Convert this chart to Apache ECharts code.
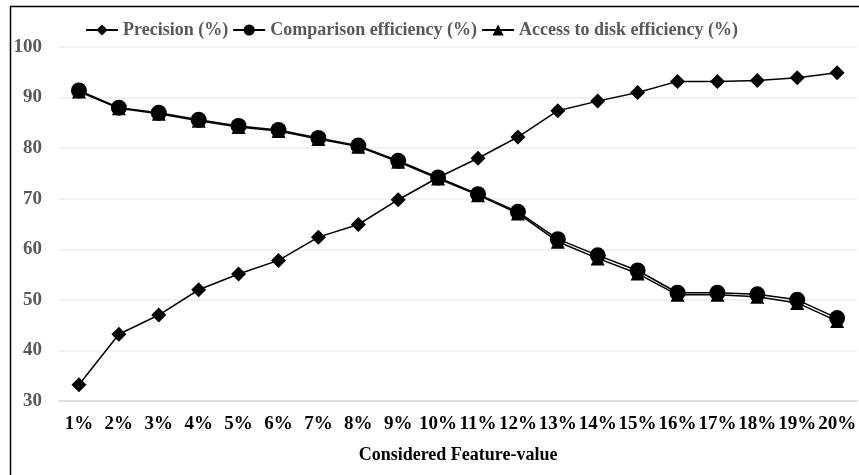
<!DOCTYPE html>
<html><head><meta charset="utf-8">
<script src="https://cdn.jsdelivr.net/npm/echarts@6/dist/echarts.min.js"></script>
<style>html,body{margin:0;padding:0;background:#fff}#c{width:859px;height:475px}</style>
</head><body><div id="c"></div>
<script>
const categories = ['1%','2%','3%','4%','5%','6%','7%','8%','9%','10%','11%','12%','13%','14%','15%','16%','17%','18%','19%','20%'];
const precision = [33.2,43.2,47.0,52.0,55.1,57.8,62.4,64.9,69.8,74.2,78.0,82.2,87.4,89.3,91.0,93.2,93.2,93.4,93.9,94.9];
const comparison = [91.4,88.0,87.0,85.6,84.4,83.6,82.0,80.5,77.5,74.2,70.9,67.4,62.0,58.8,55.8,51.4,51.4,51.1,50.0,46.4];
const access = [91.2,87.9,86.8,85.4,84.2,83.4,81.8,80.3,77.3,74.0,70.7,67.1,61.5,58.2,55.2,51.0,51.0,50.6,49.4,45.8];
const yTicks = {min:30, max:100, interval:10};

const font = '"Liberation Serif","Times New Roman",serif';
const chart = echarts.init(document.getElementById('c'));
const mk = (name, data, symbol, size) => ({
  name, type:'line', data, symbol, symbolSize:size,
  lineStyle:{color:'#000', width:1.5}, itemStyle:{color:'#000'}, z: 2
});
chart.setOption({
  animation:false,
  backgroundColor:'#fff',
  graphic:[{type:'rect', shape:{x:10.5,y:6.5,width:900,height:500}, style:{fill:null, stroke:'#000', lineWidth:1.5}, silent:true}],
  legend:{
    top:16, left:80, itemWidth:32, itemHeight:14, itemGap:4,
    textStyle:{fontFamily:font, fontWeight:'bold', fontSize:18, color:'#595959'},
    data:['Precision (%)','Comparison efficiency (%)','Access to disk efficiency (%)']
  },
  grid:{left:59, top:47, bottom:74, width:804},
  xAxis:{
    type:'category', data:categories, boundaryGap:true,
    axisLine:{lineStyle:{color:'#d9d9d9', width:1.5}}, axisTick:{show:false},
    axisLabel:{fontFamily:font, fontWeight:'bold', fontSize:19, color:'#000', margin:14, interval:0},
    name:'Considered Feature-value', nameLocation:'middle', nameGap:45,
    nameTextStyle:{fontFamily:font, fontWeight:'bold', fontSize:18, color:'#000'}
  },
  yAxis:{
    type:'value', min:yTicks.min, max:yTicks.max, interval:yTicks.interval,
    axisLine:{show:false}, axisTick:{show:false},
    splitLine:{lineStyle:{color:'#eeeeee', width:1.5}},
    axisLabel:{fontFamily:font, fontWeight:'bold', fontSize:19, color:'#595959', margin:17}
  },
  series:[
    mk('Precision (%)', precision, 'diamond', 15),
    mk('Access to disk efficiency (%)', access, 'triangle', 14),
    mk('Comparison efficiency (%)', comparison, 'circle', 16)
  ]
});
</script></body></html>
